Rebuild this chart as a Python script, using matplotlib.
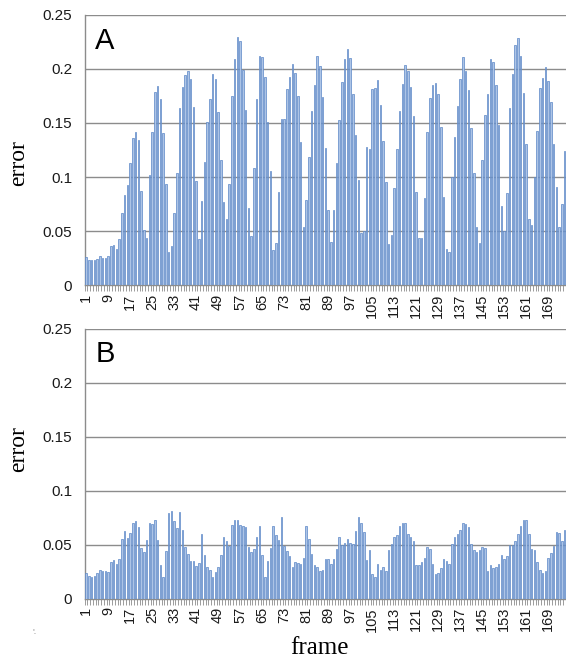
#!/usr/bin/env python3
"""Per-frame error, two panels (A: before, B: after), Excel-style bar look."""
import matplotlib
matplotlib.use("Agg")
import matplotlib.pyplot as plt          # noqa: E402
import numpy as np                       # noqa: E402

frames = list(range(1, 176))

error_a = [
    0.026, 0.023, 0.023, 0.023, 0.024, 0.027, 0.025, 0.025, 0.027, 0.036,
    0.0377, 0.034, 0.043, 0.067, 0.083, 0.093, 0.113, 0.136, 0.142, 0.134,
    0.087, 0.051, 0.044, 0.1015, 0.142, 0.179, 0.184, 0.172, 0.141, 0.094,
    0.031, 0.036, 0.067, 0.104,
    0.1636, 0.183, 0.194, 0.198, 0.191, 0.165, 0.096, 0.0426, 0.078, 0.114,
    0.151, 0.172, 0.195, 0.191, 0.160, 0.116, 0.077, 0.061, 0.094, 0.175,
    0.209, 0.229, 0.226, 0.199, 0.162, 0.071, 0.046, 0.1087, 0.172, 0.212,
    0.211, 0.192, 0.151, 0.106, 0.033,
    0.039, 0.086, 0.154, 0.154, 0.181, 0.1926, 0.204, 0.196, 0.175, 0.132,
    0.054, 0.079, 0.1185, 0.161, 0.185, 0.212, 0.2025, 0.174, 0.127, 0.070,
    0.040, 0.070, 0.113, 0.153, 0.188, 0.209, 0.2185, 0.210, 0.177, 0.1386,
    0.097, 0.048, 0.050, 0.128, 0.126,
    0.181, 0.182, 0.1895, 0.167, 0.133, 0.0957, 0.038, 0.0466, 0.0895, 0.126,
    0.161, 0.1864, 0.2034, 0.198, 0.183, 0.156, 0.0864, 0.044, 0.044, 0.081,
    0.1417, 0.173, 0.185, 0.187, 0.177, 0.146, 0.082, 0.0333, 0.031, 0.100,
    0.137, 0.166, 0.191, 0.211,
    0.198, 0.180, 0.145, 0.1037, 0.054, 0.039, 0.116, 0.157, 0.177, 0.209,
    0.2065, 0.1846, 0.148, 0.0735, 0.050, 0.085, 0.164, 0.195, 0.2216, 0.2287,
    0.212, 0.178, 0.131, 0.061, 0.0556, 0.100, 0.1426, 0.182, 0.1917, 0.202,
    0.1886, 0.1694, 0.131, 0.0907, 0.0537, 0.075, 0.1238,
]

error_b = [
    0.0235, 0.021, 0.020, 0.021, 0.0235, 0.0265, 0.0256, 0.0256, 0.0244, 0.034,
    0.036, 0.032, 0.037, 0.055, 0.063, 0.056, 0.061, 0.070, 0.072, 0.066,
    0.047, 0.043, 0.054, 0.070, 0.069, 0.0725, 0.054, 0.031, 0.020, 0.044,
    0.079, 0.081, 0.072, 0.065, 0.080,
    0.064, 0.048, 0.041, 0.035, 0.035, 0.030, 0.033, 0.060, 0.040, 0.029,
    0.0265, 0.020, 0.025, 0.029, 0.040, 0.057, 0.053, 0.049, 0.068, 0.0725,
    0.0725, 0.068, 0.067, 0.066, 0.048, 0.0435, 0.0457, 0.057, 0.067, 0.040,
    0.020, 0.035, 0.047, 0.067, 0.059,
    0.054, 0.0756, 0.049, 0.044, 0.0395, 0.029, 0.034, 0.033, 0.032, 0.038,
    0.067, 0.055, 0.041, 0.031, 0.029, 0.0256, 0.0265, 0.037, 0.037, 0.032,
    0.037, 0.0457, 0.057, 0.050, 0.052, 0.055, 0.052, 0.051, 0.063, 0.0756,
    0.070, 0.062, 0.036, 0.045,
    0.0225, 0.020, 0.032, 0.0265, 0.029, 0.0256, 0.045, 0.051, 0.057, 0.059,
    0.067, 0.070, 0.070, 0.060, 0.057, 0.053, 0.031, 0.031, 0.034, 0.038,
    0.048, 0.046, 0.032, 0.0225, 0.0235, 0.028, 0.037, 0.035, 0.032, 0.051,
    0.057, 0.060, 0.064, 0.070, 0.069,
    0.066, 0.051, 0.045, 0.0435, 0.045, 0.048, 0.047, 0.0256, 0.031, 0.028,
    0.029, 0.032, 0.040, 0.037, 0.0395, 0.050, 0.050, 0.053, 0.060, 0.067,
    0.0725, 0.0725, 0.060, 0.0457, 0.045, 0.034, 0.0265, 0.0235, 0.0256, 0.038,
    0.0426, 0.049, 0.062, 0.061, 0.053, 0.064,
]

tick_frames = list(range(1, 176, 8))
y_ticks = [0, 0.05, 0.1, 0.15, 0.2, 0.25]
y_labels = ["0", "0.05", "0.1", "0.15", "0.2", "0.25"]

GRID = "#8c8c8c"
SANS = "Liberation Sans"
SERIF = "Liberation Serif"


def panel(ax, values, letter):
    x = np.arange(len(frames))
    ax.bar(x, values, width=0.5, color="#adc4e6", edgecolor="#5a86c6",
           linewidth=0.5, zorder=3)
    for y in y_ticks[1:]:
        ax.axhline(y, color=GRID, lw=1.0, zorder=1)
    ax.set_xlim(-0.5, len(frames) - 0.5)
    ax.set_ylim(0, 0.25)
    for s in ("top", "right"):
        ax.spines[s].set_visible(False)
    for s in ("left", "bottom"):
        ax.spines[s].set_color(GRID)
        ax.spines[s].set_linewidth(1.0)
    ax.set_yticks(y_ticks)
    ax.set_yticklabels(y_labels, fontsize=11, family=SANS, color="#1a1a1a")
    ax.tick_params(axis="y", length=0, pad=9)
    ax.set_xticks([frames.index(f) for f in tick_frames])
    ax.set_xticklabels([str(f) for f in tick_frames], rotation=90,
                       fontsize=10.5, family=SANS, color="#1a1a1a")
    ax.set_xticks(np.arange(len(frames) + 1) - 0.5, minor=True)
    ax.tick_params(axis="x", which="major", length=0, pad=6)
    ax.tick_params(axis="x", which="minor", length=4, width=0.6, color=GRID,
                   direction="out")
    ax.text(0.022, 0.875, letter, transform=ax.transAxes, fontsize=21,
            family=SANS, va="baseline", ha="left")


fig = plt.figure(figsize=(5.66, 6.59), dpi=100)
ax_a = fig.add_axes([0.1497, 0.567, 0.8503, 0.4107])
ax_b = fig.add_axes([0.1497, 0.0915, 0.8503, 0.4100])
panel(ax_a, error_a, "A")
panel(ax_b, error_b, "B")

fig.text(0.033, 0.752, "error", rotation=90, fontsize=17, family=SERIF,
         ha="center", va="center")
fig.text(0.033, 0.318, "error", rotation=90, fontsize=17, family=SERIF,
         ha="center", va="center")
fig.text(0.565, 0.016, "frame", fontsize=18, family=SERIF,
         ha="center", va="center")
fig.text(0.06, 0.038, "'.", fontsize=5, color="#777777", ha="center")

fig.savefig("out.png", dpi=100)
